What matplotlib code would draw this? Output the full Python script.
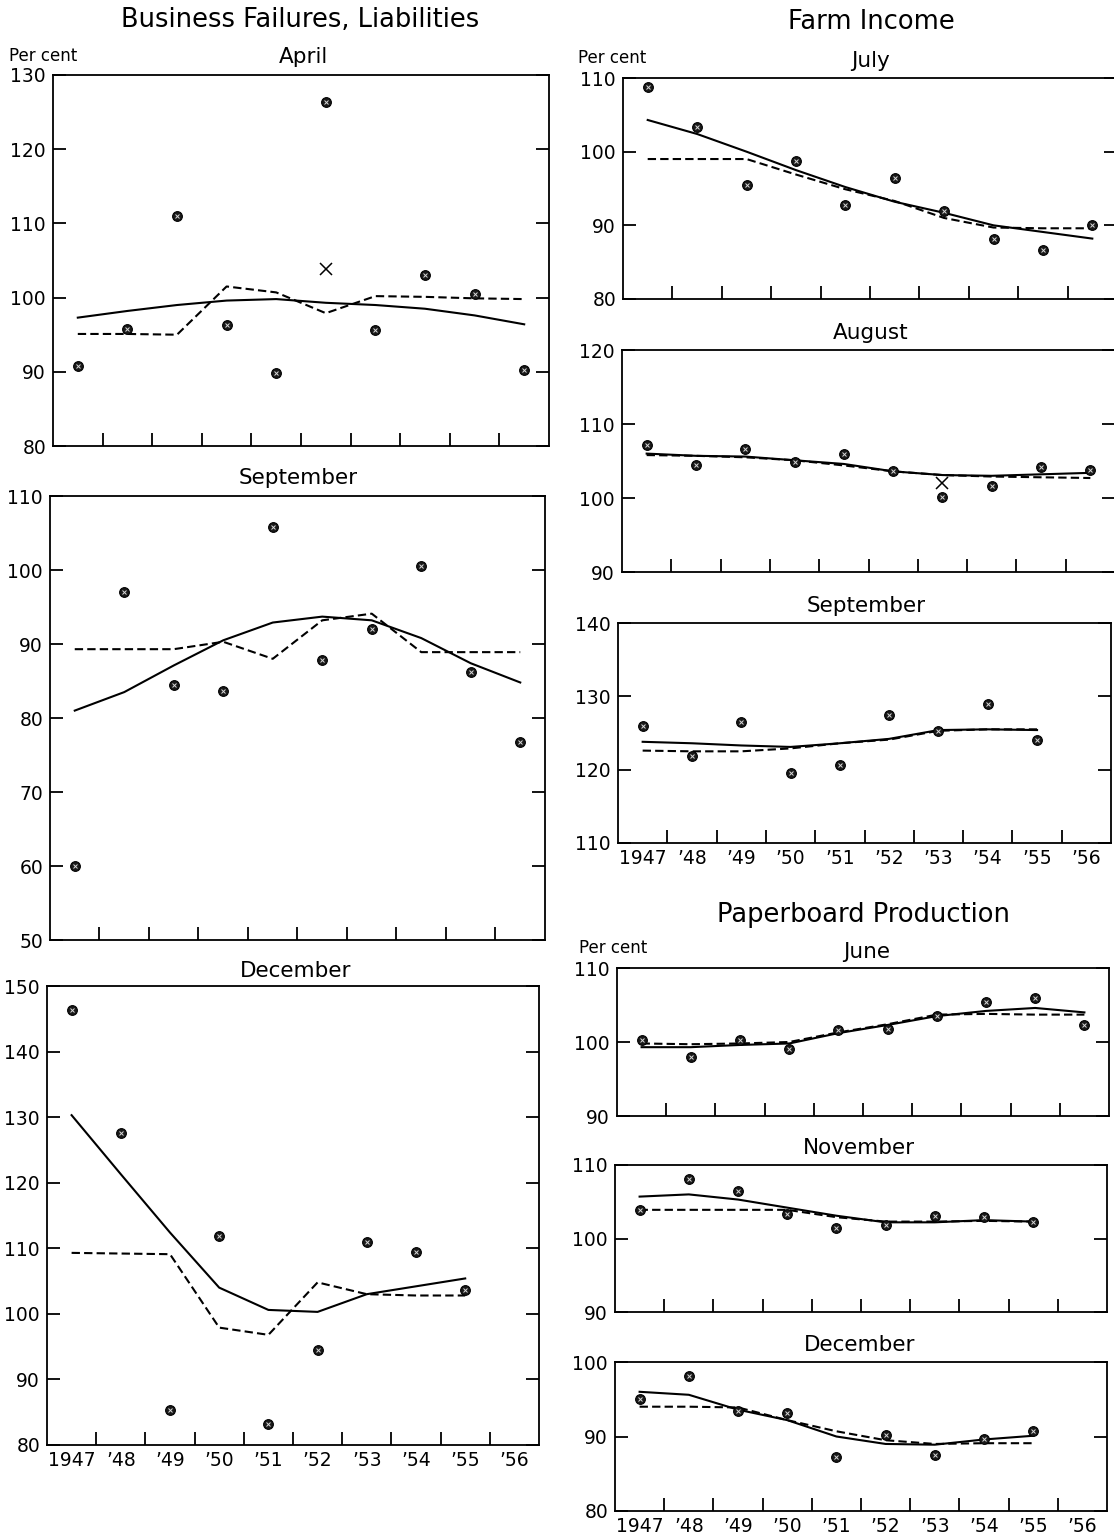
import matplotlib
matplotlib.use("Agg")
import matplotlib.pyplot as plt

plt.rcParams['font.family'] = ['DejaVu Sans']

W, H = 1114, 1539
fig = plt.figure(figsize=(W / 100, H / 100), dpi=100)
fig.patch.set_facecolor('white')

# ---------------- data ----------------
years10 = [1947, 1948, 1949, 1950, 1951, 1952, 1953, 1954, 1955, 1956]
years9 = [1947, 1948, 1949, 1950, 1951, 1952, 1953, 1954, 1955]
year_labels = ['1947', '’48', '’49', '’50', '’51', '’52', '’53', '’54', '’55', '’56']

# Business Failures, Liabilities
bf_apr_dots = [90.8, 95.8, 111.0, 96.3, 89.9, 126.4, 95.7, 103.1, 100.5, 90.2]
bf_apr_solid = [97.3, 98.2, 99.0, 99.6, 99.8, 99.3, 99.0, 98.5, 97.6, 96.4]
bf_apr_dash = [95.1, 95.1, 95.0, 101.5, 100.7, 97.9, 100.2, 100.1, 99.9, 99.8]
bf_apr_x_year, bf_apr_x_val = 1952, 103.9

bf_sep_dots = [60.0, 97.0, 84.5, 83.7, 105.8, 87.8, 92.0, 100.6, 86.2, 76.7]
bf_sep_solid = [81.0, 83.5, 87.1, 90.5, 92.9, 93.7, 93.2, 90.8, 87.4, 84.8]
bf_sep_dash = [89.3, 89.3, 89.3, 90.3, 88.0, 93.2, 94.1, 88.9, 88.9, 88.9]

bf_dec_dots = [146.4, 127.6, 85.4, 111.8, 83.2, 94.5, 111.0, 109.5, 103.6]
bf_dec_solid = [130.3, 121.3, 112.4, 104.0, 100.6, 100.3, 103.0, 104.2, 105.4]
bf_dec_dash = [109.3, 109.2, 109.1, 97.9, 96.8, 104.8, 103.0, 102.8, 102.8]

# Farm Income
fi_jul_dots = [108.8, 103.4, 95.5, 98.7, 92.7, 96.4, 92.0, 88.1, 86.6, 90.1]
fi_jul_solid = [104.3, 102.4, 100.0, 97.5, 95.2, 93.2, 91.7, 90.0, 89.1, 88.2]
fi_jul_dash = [99.0, 99.0, 99.0, 96.9, 94.9, 93.3, 91.0, 89.7, 89.6, 89.6]

fi_aug_dots = [107.1, 104.5, 106.6, 104.9, 106.0, 103.7, 100.2, 101.6, 104.2, 103.8]
fi_aug_solid = [106.0, 105.7, 105.6, 105.1, 104.6, 103.6, 103.1, 103.0, 103.2, 103.4]
fi_aug_dash = [105.8, 105.7, 105.5, 105.1, 104.4, 103.6, 103.1, 102.9, 102.8, 102.7]
fi_aug_x_year, fi_aug_x_val = 1953, 102.0

fi_sep_dots = [125.9, 121.8, 126.5, 119.5, 120.6, 127.4, 125.3, 128.9, 124.0]
fi_sep_solid = [123.8, 123.6, 123.3, 123.1, 123.6, 124.2, 125.4, 125.5, 125.4]
fi_sep_dash = [122.6, 122.5, 122.5, 122.9, 123.6, 124.1, 125.3, 125.5, 125.5]

# Paperboard Production
pp_jun_dots = [100.3, 98.0, 100.3, 99.0, 101.6, 101.8, 103.5, 105.4, 105.9, 102.3]
pp_jun_solid = [99.3, 99.3, 99.6, 99.8, 101.2, 102.3, 103.5, 104.2, 104.6, 104.0]
pp_jun_dash = [99.8, 99.7, 99.8, 100.0, 101.3, 102.4, 103.7, 103.8, 103.7, 103.7]

pp_nov_dots = [103.9, 108.1, 106.4, 103.4, 101.4, 101.9, 103.0, 102.9, 102.2]
pp_nov_solid = [105.7, 106.0, 105.3, 104.2, 103.1, 102.2, 102.2, 102.5, 102.3]
pp_nov_dash = [103.9, 103.9, 103.9, 103.9, 102.9, 102.3, 102.3, 102.4, 102.3]

pp_dec_dots = [95.0, 98.1, 93.4, 93.1, 87.2, 90.2, 87.5, 89.6, 90.7]
pp_dec_solid = [96.0, 95.6, 93.6, 92.2, 90.0, 89.0, 88.9, 89.6, 90.1]
pp_dec_dash = [94.0, 94.0, 93.9, 92.2, 90.7, 89.5, 89.0, 89.1, 89.1]

# ---------------- helpers ----------------
TICKLEN = 9.5
TICKFS = 13.5
MAINFS = 18.5
SUBFS = 15.5
PCFS = 12


def add_ax(left, top, right, bottom):
    return fig.add_axes([left / W, 1 - bottom / H, (right - left) / W, (bottom - top) / H])


def ftext(x, y, s, size=14, ha='center'):
    fig.text(x / W, 1 - y / H, s, ha=ha, va='center', fontsize=size, color='black')


def panel(box, ylim, years, dots, solid, dash, xlabels=False, xmark=None):
    ax = add_ax(*box)
    xs = [y + 0.5 for y in years]
    ax.plot(xs, solid, color='black', lw=1.5, solid_joinstyle='round', zorder=3)
    ax.plot(xs, dash, color='black', lw=1.5, linestyle=(0, (4, 2)), zorder=3)
    ax.plot(xs, dots, linestyle='none', marker='o', ms=7, mfc='#1a1a1a', mec='black',
            mew=0.8, zorder=4)
    ax.plot(xs, dots, linestyle='none', marker='x', ms=2.6, mec='#d8d8d8', mew=0.7, zorder=5)
    if xmark is not None:
        ax.plot([xmark[0] + 0.5], [xmark[1]], linestyle='none', marker='x', ms=8,
                mec='black', mew=1.1, zorder=4)
    ax.set_xlim(1947, 1957)
    ax.set_ylim(*ylim)
    ax.set_xticks(range(1948, 1957))
    ax.set_xticklabels([])
    ax.set_yticks(range(ylim[0], ylim[1] + 1, 10))
    ax.tick_params(axis='x', which='major', direction='in', length=TICKLEN, width=1.3,
                   top=False, bottom=True)
    ax.tick_params(axis='y', which='major', direction='in', length=TICKLEN, width=1.3,
                   left=True, right=True, labelsize=TICKFS, pad=5)
    if xlabels:
        ax.set_xticks([y + 0.5 for y in years10], minor=True)
        ax.set_xticklabels(year_labels, minor=True)
        ax.tick_params(axis='x', which='minor', length=0, labelsize=TICKFS, pad=4)
    for sp in ax.spines.values():
        sp.set_linewidth(1.3)
        sp.set_color('black')
    return ax


# ---------------- left column ----------------
ftext(300, 20, 'Business Failures, Liabilities', size=MAINFS)
ftext(9, 56, 'Per cent', size=PCFS, ha='left')
ftext(303, 57, 'April', size=SUBFS)
panel((53, 75, 549, 446), (80, 130), years10, bf_apr_dots, bf_apr_solid, bf_apr_dash,
      xmark=(bf_apr_x_year, bf_apr_x_val))

ftext(298, 478, 'September', size=SUBFS)
panel((50, 496, 545, 940), (50, 110), years10, bf_sep_dots, bf_sep_solid, bf_sep_dash)

ftext(296, 971, 'December', size=SUBFS)
panel((47, 986, 539, 1445), (80, 150), years9, bf_dec_dots, bf_dec_solid, bf_dec_dash,
      xlabels=True)

# ---------------- right column ----------------
ftext(871, 22, 'Farm Income', size=MAINFS)
ftext(578, 58, 'Per cent', size=PCFS, ha='left')
ftext(870, 61, 'July', size=SUBFS)
panel((623, 78, 1117, 299), (80, 110), years10, fi_jul_dots, fi_jul_solid, fi_jul_dash)

ftext(871, 333, 'August', size=SUBFS)
panel((622, 350, 1115, 572), (90, 120), years10, fi_aug_dots, fi_aug_solid, fi_aug_dash,
      xmark=(fi_aug_x_year, fi_aug_x_val))

ftext(866, 606, 'September', size=SUBFS)
panel((618, 623, 1111, 843), (110, 140), years9, fi_sep_dots, fi_sep_solid, fi_sep_dash,
      xlabels=True)

ftext(864, 915, 'Paperboard Production', size=MAINFS)
ftext(579, 948, 'Per cent', size=PCFS, ha='left')
ftext(867, 952, 'June', size=SUBFS)
panel((617, 968, 1109, 1116), (90, 110), years10, pp_jun_dots, pp_jun_solid, pp_jun_dash)

ftext(859, 1148, 'November', size=SUBFS)
panel((615, 1165, 1107, 1312), (90, 110), years9, pp_nov_dots, pp_nov_solid, pp_nov_dash)

ftext(860, 1345, 'December', size=SUBFS)
panel((615, 1362, 1107, 1511), (80, 100), years9, pp_dec_dots, pp_dec_solid, pp_dec_dash,
      xlabels=True)

fig.savefig('out.png', dpi=100, facecolor='white')
